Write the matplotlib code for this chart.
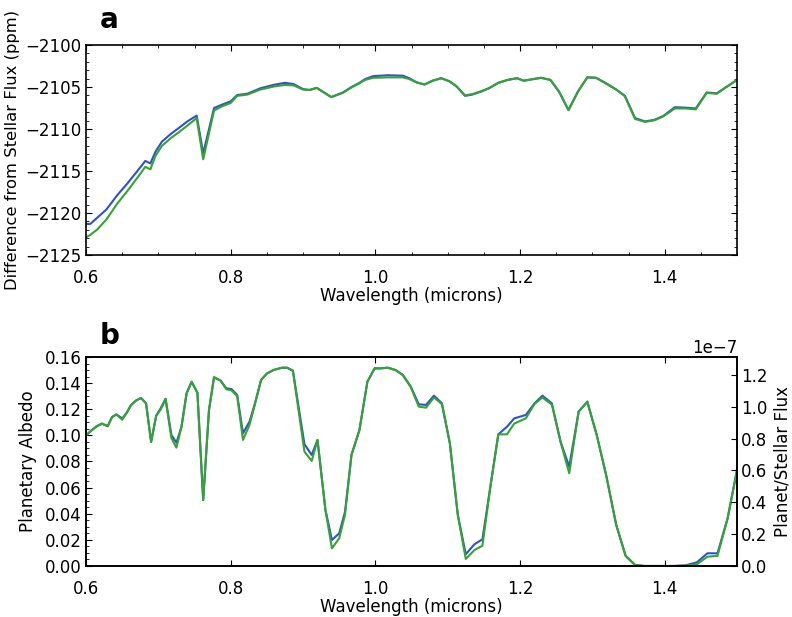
import numpy as np
import matplotlib
matplotlib.use("Agg")
import matplotlib.pyplot as plt
from matplotlib.ticker import MultipleLocator

# panel a: difference from stellar flux (ppm)
wl_a = [0.600, 0.606, 0.615, 0.628, 0.643, 0.657, 0.671, 0.682, 0.689, 0.696,
        0.705, 0.717, 0.728, 0.740, 0.753, 0.762, 0.777, 0.788, 0.800, 0.809,
        0.823, 0.841, 0.859, 0.875, 0.887, 0.900, 0.909, 0.919, 0.928, 0.939,
        0.955, 0.967, 0.977, 0.986, 0.997, 1.017, 1.038, 1.047, 1.057, 1.068,
        1.079, 1.091, 1.102, 1.112, 1.124, 1.134, 1.146, 1.157, 1.170, 1.183,
        1.196, 1.205, 1.229, 1.242, 1.254, 1.267, 1.280, 1.293, 1.305, 1.319,
        1.333, 1.345, 1.359, 1.373, 1.386, 1.398, 1.414, 1.428, 1.443, 1.458,
        1.472, 1.486, 1.500]
diff_blue = [-2121.3, -2121.3, -2120.6, -2119.6, -2117.9, -2116.5, -2115.0, -2113.8, -2114.1, -2112.7,
             -2111.5, -2110.6, -2109.9, -2109.1, -2108.4, -2112.9, -2107.5, -2107.1, -2106.7, -2105.95,
             -2105.8, -2105.15, -2104.75, -2104.5, -2104.65, -2105.25, -2105.35, -2105.1, -2105.6, -2106.2,
             -2105.65, -2105.0, -2104.55, -2104.05, -2103.7, -2103.6, -2103.65, -2103.95, -2104.45, -2104.7,
             -2104.25, -2103.95, -2104.3, -2104.9, -2106.05, -2105.9, -2105.55, -2105.15, -2104.5, -2104.15,
             -2103.95, -2104.25, -2103.9, -2104.15, -2105.55, -2107.75, -2105.55, -2103.85, -2103.9, -2104.55,
             -2105.3, -2106.05, -2108.7, -2109.1, -2108.9, -2108.45, -2107.4, -2107.45, -2107.55, -2105.65,
             -2105.75, -2104.95, -2104.15]
diff_green = [-2122.9, -2122.6, -2122.0, -2120.8, -2118.9, -2117.4, -2115.8, -2114.5, -2114.8, -2113.2,
              -2112.0, -2111.1, -2110.4, -2109.6, -2108.7, -2113.6, -2107.8, -2107.3, -2106.9, -2106.05,
              -2105.9, -2105.3, -2104.95, -2104.75, -2104.8, -2105.3, -2105.35, -2105.1, -2105.6, -2106.2,
              -2105.7, -2105.05, -2104.6, -2104.15, -2103.9, -2103.85, -2103.85, -2104.05, -2104.45, -2104.7,
              -2104.25, -2103.95, -2104.3, -2104.9, -2106.0, -2105.85, -2105.5, -2105.15, -2104.5, -2104.15,
              -2103.95, -2104.25, -2103.9, -2104.15, -2105.55, -2107.75, -2105.55, -2103.85, -2103.9, -2104.6,
              -2105.3, -2106.1, -2108.8, -2109.15, -2108.95, -2108.5, -2107.55, -2107.55, -2107.65, -2105.7,
              -2105.8, -2104.95, -2104.15]

# panel b: planetary albedo
wl_b = [0.600, 0.608, 0.615, 0.622, 0.630, 0.636, 0.642, 0.650, 0.656, 0.662,
        0.669, 0.676, 0.683, 0.690, 0.697, 0.7035, 0.710, 0.718, 0.725, 0.732,
        0.739, 0.746, 0.754, 0.762, 0.770, 0.777, 0.786, 0.794, 0.801, 0.809,
        0.817, 0.826, 0.833, 0.842, 0.850, 0.859, 0.871, 0.878, 0.886, 0.902,
        0.912, 0.920, 0.931, 0.940, 0.950, 0.958, 0.967, 0.978, 0.989, 0.999,
        1.008, 1.017, 1.028, 1.038, 1.049, 1.060, 1.070, 1.081, 1.092, 1.103,
        1.114, 1.125, 1.137, 1.148, 1.159, 1.170, 1.182, 1.192, 1.208, 1.220,
        1.231, 1.244, 1.256, 1.268, 1.281, 1.293, 1.306, 1.319, 1.333, 1.346,
        1.359, 1.372, 1.386, 1.400, 1.413, 1.429, 1.4445, 1.459, 1.473, 1.487,
        1.500]
alb_blue = [0.100, 0.104, 0.107, 0.109, 0.107, 0.114, 0.116, 0.113, 0.117, 0.123,
            0.1266, 0.1286, 0.1245, 0.095, 0.115, 0.121, 0.128, 0.1003, 0.0944, 0.1066,
            0.1322, 0.141, 0.1327, 0.0505, 0.1194, 0.1445, 0.1419, 0.136, 0.1355, 0.1309,
            0.1016, 0.1105, 0.1233, 0.1424, 0.1473, 0.150, 0.1518, 0.1518, 0.1495, 0.0932,
            0.085, 0.0965, 0.0429, 0.0199, 0.025, 0.0413, 0.085, 0.1041, 0.1411, 0.1513,
            0.1513, 0.1518, 0.150, 0.1462, 0.1373, 0.1238, 0.1233, 0.1304, 0.1246, 0.0939,
            0.039, 0.009, 0.0166, 0.0204, 0.0607, 0.1008, 0.1066, 0.113, 0.1156, 0.1245,
            0.1304, 0.1245, 0.0952, 0.076, 0.1181, 0.1258, 0.1003, 0.0697, 0.0314, 0.0077,
            0.0008, 0.0, 0.0, 0.0, 0.0, 0.0005, 0.0028, 0.0097, 0.0097, 0.0365,
            0.0735]
alb_green = [0.100, 0.104, 0.107, 0.109, 0.107, 0.114, 0.116, 0.112, 0.117, 0.123,
             0.1266, 0.1286, 0.1245, 0.095, 0.1148, 0.120, 0.128, 0.098, 0.0906, 0.1066,
             0.132, 0.141, 0.1327, 0.0505, 0.1194, 0.1445, 0.1419, 0.1353, 0.1345, 0.130,
             0.0965, 0.108, 0.1228, 0.1424, 0.1473, 0.150, 0.1518, 0.1518, 0.1495, 0.0875,
             0.0804, 0.0965, 0.0429, 0.0135, 0.0212, 0.039, 0.085, 0.1041, 0.1411, 0.1513,
             0.1513, 0.1518, 0.150, 0.1462, 0.137, 0.122, 0.1212, 0.129, 0.124, 0.0939,
             0.039, 0.0054, 0.0122, 0.0155, 0.0607, 0.1008, 0.1008, 0.109, 0.113, 0.124,
             0.129, 0.1235, 0.0952, 0.071, 0.1181, 0.1258, 0.1003, 0.0697, 0.0314, 0.0077,
             0.0008, 0.0, 0.0, 0.0, 0.0, 0.0003, 0.0013, 0.0071, 0.0077, 0.0365,
             0.0735]

flux_scale = 8.2e-7  # planet/stellar flux per unit albedo

plt.rcParams['font.family'] = 'DejaVu Sans'
plt.rcParams['font.size'] = 12
plt.rcParams['xtick.direction'] = 'in'
plt.rcParams['ytick.direction'] = 'in'
plt.rcParams['xtick.top'] = True
plt.rcParams['ytick.right'] = True
plt.rcParams['xtick.major.size'] = 4
plt.rcParams['ytick.major.size'] = 4
plt.rcParams['xtick.minor.size'] = 2
plt.rcParams['ytick.minor.size'] = 2
plt.rcParams['xtick.major.pad'] = 10
plt.rcParams['ytick.major.pad'] = 3
plt.rcParams['axes.linewidth'] = 1.2

blue = '#2e50d2'
green = '#33a52f'

fig = plt.figure(figsize=(7.92, 6.17), dpi=100, facecolor='white')
ax1 = fig.add_axes([0.1086, 0.5867, 0.822, 0.3403])
ax2 = fig.add_axes([0.1086, 0.0827, 0.822, 0.3387])

ax1.plot(wl_a, diff_blue, color=blue, lw=1.5)
ax1.plot(wl_a, diff_green, color=green, lw=1.5)
ax1.set_xlim(0.6, 1.5)
ax1.set_ylim(-2125, -2100)
ax1.xaxis.set_major_locator(MultipleLocator(0.2))
ax1.xaxis.set_minor_locator(MultipleLocator(0.05))
ax1.yaxis.set_major_locator(MultipleLocator(5))
ax1.yaxis.set_minor_locator(MultipleLocator(1))
ax1.ticklabel_format(axis='y', useOffset=False)
ax1.set_xlabel('Wavelength (microns)', labelpad=0)
ax1.set_ylabel('Difference from Stellar Flux (ppm)', fontsize=11.8, labelpad=4)

ax2.plot(wl_b, alb_blue, color=blue, lw=1.5)
ax2.plot(wl_b, alb_green, color=green, lw=1.5)
ax2.set_xlim(0.6, 1.5)
ax2.set_ylim(0, 0.16)
ax2.xaxis.set_major_locator(MultipleLocator(0.2))
ax2.yaxis.set_major_locator(MultipleLocator(0.02))
ax2.yaxis.set_minor_locator(MultipleLocator(0.005))
ax2.set_xlabel('Wavelength (microns)', labelpad=0)
ax2.set_ylabel('Planetary Albedo', labelpad=6)

ax3 = ax2.twinx()
ax3.set_ylim(0, 0.16 * flux_scale)
ax3.yaxis.set_major_locator(MultipleLocator(0.2e-7))
ax3.set_ylabel('Planet/Stellar Flux', labelpad=4)

fig.text(0.126, 0.955, 'a', fontsize=20, fontweight='bold')
fig.text(0.126, 0.443, 'b', fontsize=20, fontweight='bold')

fig.savefig('out.png', dpi=100, facecolor='white')
